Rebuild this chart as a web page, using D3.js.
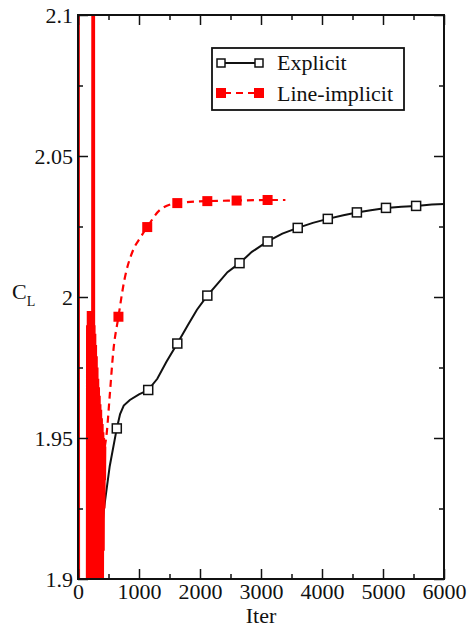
<!DOCTYPE html>
<html>
<head>
<meta charset="utf-8">
<script src="https://cdn.jsdelivr.net/npm/d3@7"></script>
<style>
body { margin: 0; background: #fff; }
</style>
</head>
<body>
<div id="vis1"></div>
<script>
// data: [iter, CL]
var explicitLine = [[0,2.3],[10,1.8],[300,1.8],[330,1.9],[420,1.924],[520,1.940],[636,1.9534],[690,1.9585],
  [750,1.9615],[850,1.9635],[1000,1.9655],[1150,1.967],[1300,1.971],[1450,1.977],[1628,1.9835],[1800,1.990],
  [1950,1.9955],[2120,2.0005],[2300,2.005],[2450,2.0088],[2648,2.012],[2850,2.016],[3108,2.0197],[3350,2.0225],
  [3602,2.0245],[3850,2.0263],[4095,2.0277],[4350,2.029],[4572,2.030],[4800,2.0308],[5049,2.0316],[5300,2.032],
  [5543,2.0323],[5800,2.0328],[6000,2.033]];
var explicitMarks = [636,1151,1628,2120,2648,3108,3602,4095,4572,5049,5543];

var implicitStart = [[0,2.3],[12,1.8],[150,1.8],[156,1.99],[162,1.85],[168,1.995],[174,1.85],[180,1.99],
  [186,1.85],[192,1.995],[198,1.85],[204,1.99],[210,1.85],[216,1.995],[222,1.85],[228,1.99],[234,1.85],
  [240,1.99],[247,2.3],[254,2.3],[258,1.85],[264,1.99],[270,1.85],[276,1.987],[282,1.85],[288,1.983],
  [294,1.85],[300,1.979],[306,1.85],[312,1.975],[318,1.85],[324,1.971],[330,1.855],[336,1.968],[342,1.86],
  [348,1.965],[354,1.865],[360,1.962],[366,1.87],[372,1.96],[378,1.88],[384,1.957],[390,1.89],[396,1.955],
  [402,1.9],[408,1.952],[414,1.91],[420,1.95],[426,1.925],[432,1.948],[436,1.935],[440,1.947]];
var implicitLine = [[440,1.947],[472,1.952],[520,1.965],[580,1.981],[663,1.993],[760,2.006],[905,2.0167],
  [1020,2.021],[1135,2.0248],[1349,2.031],[1628,2.0333],[2120,2.034],[2600,2.0342],[3108,2.0344],[3400,2.0344]];
var implicitMarks = [[663,1.993],[1135,2.0248],[1628,2.0333],[2120,2.034],[2600,2.0342],[3108,2.0344]];

var xTicks = [0,1000,2000,3000,4000,5000,6000];
var xMinor = [500,1500,2500,3500,4500,5500];
var yTicks = [1.9,1.95,2,2.05,2.1];
var yMinor = [1.925,1.975,2.025,2.075];
var seriesNames = ["Explicit","Line-implicit"];

var serif = "'Liberation Serif', 'Times New Roman', Times, 'DejaVu Serif', serif";

var margin = {top: 15, right: 24, bottom: 49, left: 78},
    width = 468 - margin.left - margin.right,
    height = 628 - margin.top - margin.bottom;

var svg = d3.select("#vis1")
  .append("svg")
    .attr("width", 468)
    .attr("height", 628)
  .append("g")
    .attr("transform", "translate(" + margin.left + "," + margin.top + ")");

var x = d3.scaleLinear().domain([0, 6000]).range([0, width]);
var y = d3.scaleLinear().domain([1.9, 2.1]).range([height, 0]);

svg.append("clipPath").attr("id", "clip")
  .append("rect").attr("width", width).attr("height", height);

var line = d3.line()
  .x(function(d) { return x(d[0]); })
  .y(function(d) { return y(d[1]); });

var plot = svg.append("g").attr("clip-path", "url(#clip)");

plot.append("path")
  .datum(explicitLine)
  .attr("fill", "none")
  .attr("stroke", "#111")
  .attr("stroke-width", 2)
  .attr("d", line);

plot.append("path")
  .datum(implicitStart)
  .attr("fill", "none")
  .attr("stroke", "#f00")
  .attr("stroke-width", 3)
  .attr("d", line);

plot.append("path")
  .datum(implicitLine)
  .attr("fill", "none")
  .attr("stroke", "#f00")
  .attr("stroke-width", 2.2)
  .attr("stroke-dasharray", "7,5")
  .attr("d", d3.line().x(function(d) { return x(d[0]); }).y(function(d) { return y(d[1]); }).curve(d3.curveMonotoneX));

plot.selectAll(".im")
  .data(implicitMarks)
  .enter()
  .append("rect")
  .attr("class", "im")
  .attr("x", function(d) { return x(d[0]) - 5; })
  .attr("y", function(d) { return y(d[1]) - 5; })
  .attr("width", 10)
  .attr("height", 10)
  .style("fill", "#f00");

var bis = d3.bisector(function(d) { return d[0]; }).left;
function explicitAt(t) {
  var i = bis(explicitLine, t);
  var a = explicitLine[i - 1], b = explicitLine[i];
  return a[1] + (b[1] - a[1]) * (t - a[0]) / (b[0] - a[0]);
}

plot.selectAll(".em")
  .data(explicitMarks)
  .enter()
  .append("rect")
  .attr("class", "em")
  .attr("x", function(d) { return x(d) - 4.5; })
  .attr("y", function(d) { return y(explicitAt(d)) - 4.5; })
  .attr("width", 9)
  .attr("height", 9)
  .style("fill", "#fff")
  .style("stroke", "#111")
  .style("stroke-width", 1.5);

// axes, ticks pointing inward
function styleAxis(g) {
  g.attr("font-family", serif);
  g.select(".domain").remove();
  g.selectAll("line").attr("stroke", "#111").attr("stroke-width", 1.5);
  g.selectAll("text").style("font-family", serif).style("font-size", "22px").attr("fill", "#111");
}

svg.append("g")
  .attr("transform", "translate(0," + height + ")")
  .call(d3.axisBottom(x).tickValues(xTicks).tickSize(-10).tickPadding(4).tickFormat(d3.format("d")))
  .call(styleAxis);
svg.append("g")
  .attr("transform", "translate(0," + height + ")")
  .call(d3.axisBottom(x).tickValues(xMinor).tickSize(-5).tickFormat(""))
  .call(styleAxis);
svg.append("g")
  .call(d3.axisTop(x).tickValues(xTicks).tickSize(-10).tickFormat(""))
  .call(styleAxis);
svg.append("g")
  .call(d3.axisTop(x).tickValues(xMinor).tickSize(-5).tickFormat(""))
  .call(styleAxis);

svg.append("g")
  .call(d3.axisLeft(y).tickValues(yTicks).tickSize(-10).tickPadding(5).tickFormat(function(d) { return String(+d.toFixed(2)); }))
  .call(styleAxis);
svg.append("g")
  .call(d3.axisLeft(y).tickValues(yMinor).tickSize(-5).tickFormat(""))
  .call(styleAxis);
svg.append("g")
  .attr("transform", "translate(" + width + ",0)")
  .call(d3.axisRight(y).tickValues(yTicks).tickSize(-10).tickFormat(""))
  .call(styleAxis);
svg.append("g")
  .attr("transform", "translate(" + width + ",0)")
  .call(d3.axisRight(y).tickValues(yMinor).tickSize(-5).tickFormat(""))
  .call(styleAxis);

svg.append("rect")
  .attr("width", width)
  .attr("height", height)
  .attr("fill", "none")
  .attr("stroke", "#111")
  .attr("stroke-width", 2);

svg.append("text")
  .attr("x", width / 2)
  .attr("y", height + 44)
  .attr("text-anchor", "middle")
  .style("font-family", serif)
  .style("font-size", "22px")
  .attr("fill", "#111")
  .text("Iter");

var cl = svg.append("text")
  .attr("x", -66)
  .attr("y", y(2) + 2)
  .style("font-family", serif)
  .style("font-size", "22px")
  .attr("fill", "#111");
cl.append("tspan").text("C");
cl.append("tspan").attr("dy", 7).style("font-size", "14px").text("L");

// legend
var leg = svg.append("g").attr("transform", "translate(" + (212 - margin.left) + "," + (48 - margin.top) + ")");
leg.append("rect")
  .attr("width", 192)
  .attr("height", 62)
  .attr("fill", "#fff")
  .attr("stroke", "#111")
  .attr("stroke-width", 1.8);

leg.append("line").attr("x1", 9).attr("x2", 47).attr("y1", 15).attr("y2", 15)
  .attr("stroke", "#111").attr("stroke-width", 2);
leg.selectAll(".lem").data([9, 47]).enter().append("rect")
  .attr("x", function(d) { return d - 4; }).attr("y", 11).attr("width", 8).attr("height", 8)
  .style("fill", "#fff").style("stroke", "#111").style("stroke-width", 1.5);

leg.append("line").attr("x1", 9).attr("x2", 47).attr("y1", 45).attr("y2", 45)
  .attr("stroke", "#f00").attr("stroke-width", 2.2).attr("stroke-dasharray", "7,5").attr("stroke-dashoffset", -3);
leg.selectAll(".lim").data([9, 47]).enter().append("rect")
  .attr("x", function(d) { return d - 5; }).attr("y", 40).attr("width", 10).attr("height", 10)
  .style("fill", "#f00");

leg.selectAll(".lt")
  .data(seriesNames)
  .enter()
  .append("text")
  .attr("x", 65)
  .attr("y", function(d, i) { return 22 + i * 31; })
  .style("font-family", serif)
  .style("font-size", "22px")
  .attr("fill", "#111")
  .text(function(d) { return d; });
</script>
</body>
</html>
